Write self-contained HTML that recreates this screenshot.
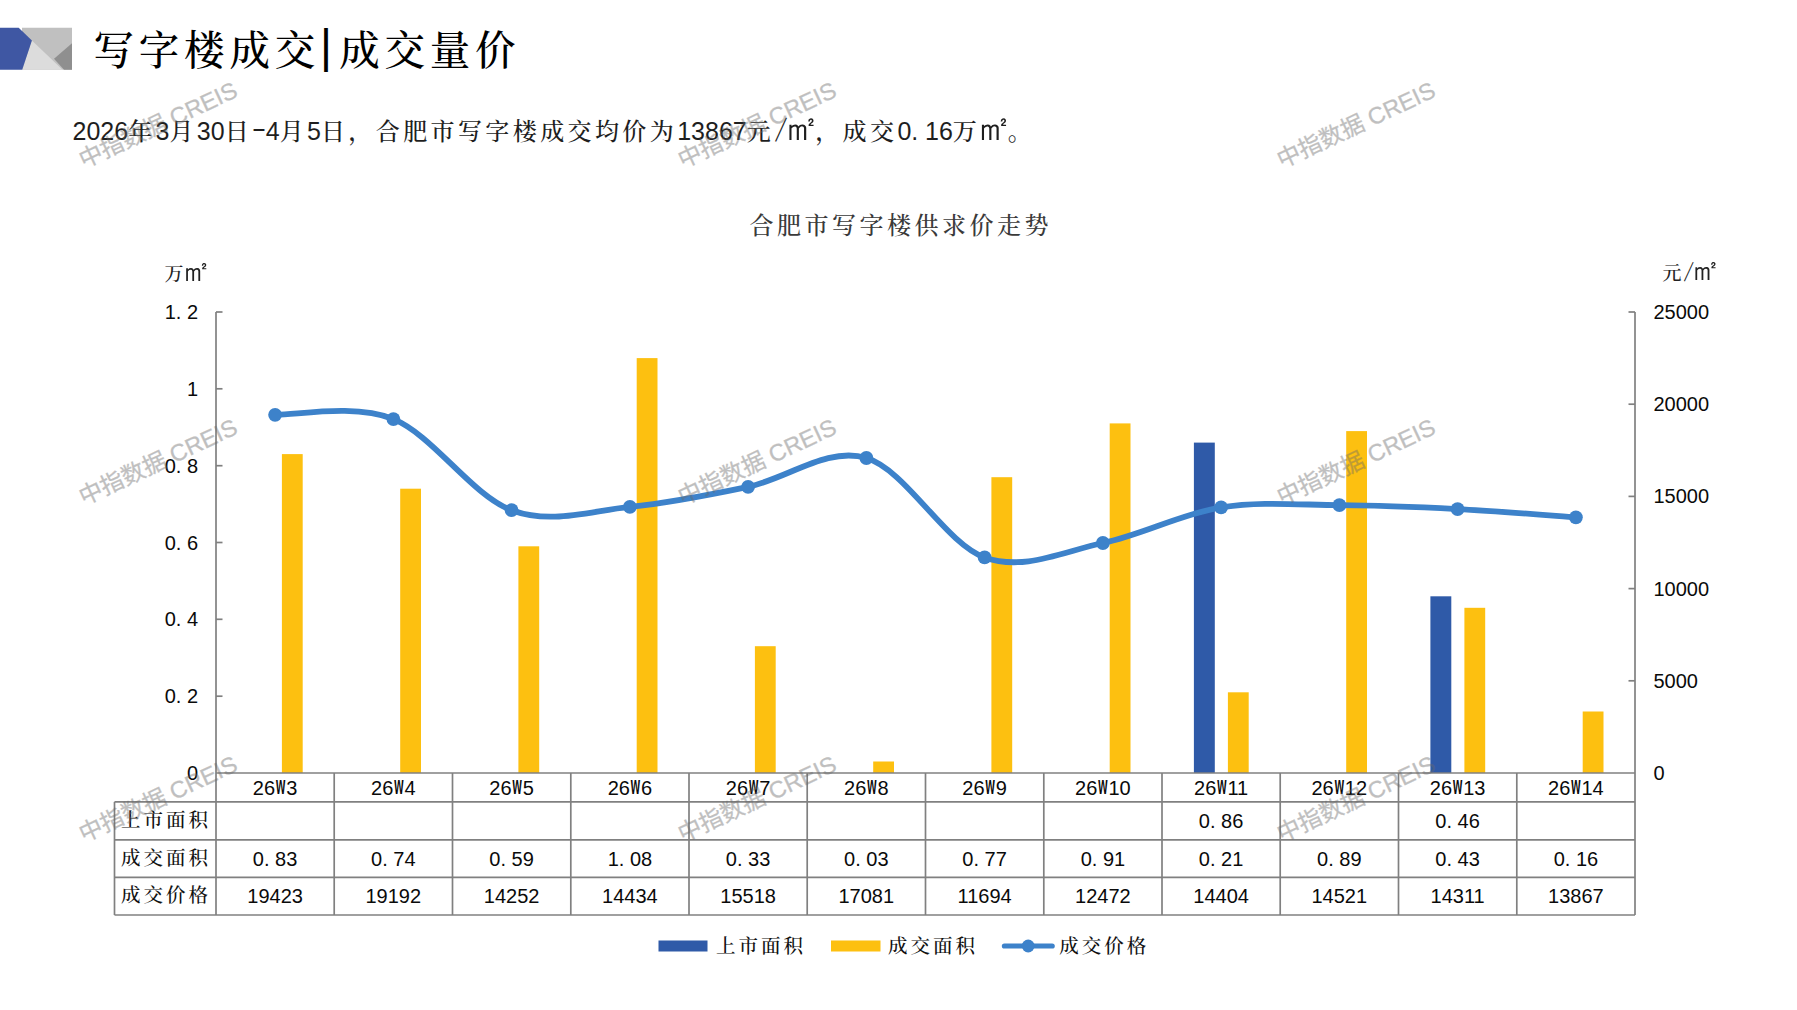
<!DOCTYPE html>
<html lang="zh-CN"><head><meta charset="utf-8"><title>写字楼成交|成交量价</title>
<style>
html,body{margin:0;padding:0;background:#fff}
body{width:1797px;height:1010px;position:relative;overflow:hidden;font-family:"Liberation Sans","Noto Serif CJK SC",serif}
svg{position:absolute;left:0;top:0}
.t{position:absolute;white-space:nowrap;color:#000;overflow:visible}
.t i{font-style:normal}
.r{text-align:right}.l{text-align:left}.c{text-align:center}
.n{font-family:"Liberation Sans",sans-serif;font-size:20px;color:#0a0a0a}
.n .p{display:inline-block;width:11.1px;text-align:left}
.n .w{font-family:"IPAGothic","Liberation Sans",sans-serif;font-size:20.5px;display:inline-block;width:11.1px;text-align:center}
.k{font-family:"Liberation Sans","Noto Serif CJK SC",serif;font-size:19.5px;letter-spacing:3px;color:#111;padding-left:1.5px;box-sizing:border-box;font-weight:500}
.u{font-family:"Liberation Sans","Noto Serif CJK SC",serif;font-size:19px;color:#222;font-weight:500}
.ct{font-family:"Liberation Sans","Noto Serif CJK SC",serif;font-size:24px;letter-spacing:3.5px;color:#3a3a3a;padding-left:3.5px;box-sizing:border-box;font-weight:500}
.h{font-family:"Liberation Sans","Noto Serif CJK SC",serif;font-size:40.5px;letter-spacing:4.8px;color:#000;font-weight:500}
.h .bar{display:inline-block;width:19.2px;letter-spacing:0;text-align:left;font-family:"Liberation Sans",sans-serif;font-size:46px;position:relative;top:-3px}
.b{font-family:"Liberation Sans","Noto Serif CJK SC",serif;font-size:24px;letter-spacing:3.4px;color:#1e1e1e;font-weight:500}
.b b{font-weight:normal;font-family:"Liberation Sans",sans-serif;font-size:25px;letter-spacing:0}
.b .p2{display:inline-block;width:13.7px;text-align:left}
.b .p3{display:inline-block;width:13.7px;text-align:center}
.sq{font-family:"WenQuanYi Zen Hei","Noto Sans CJK SC",sans-serif;letter-spacing:0;display:inline-block;text-align:center}
.b .sq{width:36px;font-size:36px;margin:0 -4.3px;line-height:20px}
.u .sq{width:30px;font-size:30px;margin:0 -3.9px;line-height:20px}
.u .cj{display:inline-block;width:22.2px;text-align:center}
.u .sl{display:inline-block;width:11.1px;text-align:center;font-family:"IPAGothic","Liberation Sans",sans-serif;font-size:22px}
.b .p3{font-family:"IPAGothic","Liberation Sans",sans-serif;font-size:27px}
.wm{position:absolute;width:200px;height:32px;line-height:32px;text-align:center;white-space:nowrap;font-family:"Liberation Sans","Noto Sans CJK SC",sans-serif;font-size:23.4px;color:#696969;opacity:.42;-webkit-text-stroke:.3px #696969;transform:rotate(-25deg);transform-origin:50% 50%}
</style></head>
<body>
<svg width="1797" height="1010" viewBox="0 0 1797 1010">
<rect x="281.9" y="454.1" width="20.8" height="318.9" fill="#fdc010"/>
<rect x="400.2" y="488.7" width="20.8" height="284.3" fill="#fdc010"/>
<rect x="518.4" y="546.3" width="20.8" height="226.7" fill="#fdc010"/>
<rect x="636.7" y="358.1" width="20.8" height="414.9" fill="#fdc010"/>
<rect x="754.9" y="646.2" width="20.8" height="126.8" fill="#fdc010"/>
<rect x="873.2" y="761.5" width="20.8" height="11.5" fill="#fdc010"/>
<rect x="991.4" y="477.2" width="20.8" height="295.8" fill="#fdc010"/>
<rect x="1109.7" y="423.4" width="20.8" height="349.6" fill="#fdc010"/>
<rect x="1193.9" y="442.6" width="20.9" height="330.4" fill="#2f5aa8"/>
<rect x="1227.9" y="692.3" width="20.8" height="80.7" fill="#fdc010"/>
<rect x="1346.2" y="431.1" width="20.8" height="341.9" fill="#fdc010"/>
<rect x="1430.4" y="596.3" width="20.9" height="176.7" fill="#2f5aa8"/>
<rect x="1464.4" y="607.8" width="20.8" height="165.2" fill="#fdc010"/>
<rect x="1582.7" y="711.5" width="20.8" height="61.5" fill="#fdc010"/>
<line x1="216.0" y1="312.0" x2="216.0" y2="915.0" stroke="#808080" stroke-width="1.7"/>
<line x1="1635.0" y1="312.0" x2="1635.0" y2="915.0" stroke="#808080" stroke-width="1.7"/>
<line x1="334.2" y1="773.0" x2="334.2" y2="915.0" stroke="#808080" stroke-width="1.7"/>
<line x1="452.5" y1="773.0" x2="452.5" y2="915.0" stroke="#808080" stroke-width="1.7"/>
<line x1="570.8" y1="773.0" x2="570.8" y2="915.0" stroke="#808080" stroke-width="1.7"/>
<line x1="689.0" y1="773.0" x2="689.0" y2="915.0" stroke="#808080" stroke-width="1.7"/>
<line x1="807.2" y1="773.0" x2="807.2" y2="915.0" stroke="#808080" stroke-width="1.7"/>
<line x1="925.5" y1="773.0" x2="925.5" y2="915.0" stroke="#808080" stroke-width="1.7"/>
<line x1="1043.8" y1="773.0" x2="1043.8" y2="915.0" stroke="#808080" stroke-width="1.7"/>
<line x1="1162.0" y1="773.0" x2="1162.0" y2="915.0" stroke="#808080" stroke-width="1.7"/>
<line x1="1280.2" y1="773.0" x2="1280.2" y2="915.0" stroke="#808080" stroke-width="1.7"/>
<line x1="1398.5" y1="773.0" x2="1398.5" y2="915.0" stroke="#808080" stroke-width="1.7"/>
<line x1="1516.8" y1="773.0" x2="1516.8" y2="915.0" stroke="#808080" stroke-width="1.7"/>
<line x1="114.5" y1="801.9" x2="114.5" y2="915.0" stroke="#808080" stroke-width="1.7"/>
<line x1="216.0" y1="773.0" x2="1635.0" y2="773.0" stroke="#808080" stroke-width="1.7"/>
<line x1="114.5" y1="801.9" x2="1635.0" y2="801.9" stroke="#808080" stroke-width="1.7"/>
<line x1="114.5" y1="839.8" x2="1635.0" y2="839.8" stroke="#808080" stroke-width="1.7"/>
<line x1="114.5" y1="877.3" x2="1635.0" y2="877.3" stroke="#808080" stroke-width="1.7"/>
<line x1="114.5" y1="915.0" x2="1635.0" y2="915.0" stroke="#808080" stroke-width="1.7"/>
<line x1="216.0" y1="696.2" x2="222.5" y2="696.2" stroke="#808080" stroke-width="1.7"/>
<line x1="216.0" y1="619.3" x2="222.5" y2="619.3" stroke="#808080" stroke-width="1.7"/>
<line x1="216.0" y1="542.5" x2="222.5" y2="542.5" stroke="#808080" stroke-width="1.7"/>
<line x1="216.0" y1="465.7" x2="222.5" y2="465.7" stroke="#808080" stroke-width="1.7"/>
<line x1="216.0" y1="388.8" x2="222.5" y2="388.8" stroke="#808080" stroke-width="1.7"/>
<line x1="216.0" y1="312.0" x2="222.5" y2="312.0" stroke="#808080" stroke-width="1.7"/>
<line x1="1628.5" y1="680.8" x2="1635.0" y2="680.8" stroke="#808080" stroke-width="1.7"/>
<line x1="1628.5" y1="588.6" x2="1635.0" y2="588.6" stroke="#808080" stroke-width="1.7"/>
<line x1="1628.5" y1="496.4" x2="1635.0" y2="496.4" stroke="#808080" stroke-width="1.7"/>
<line x1="1628.5" y1="404.2" x2="1635.0" y2="404.2" stroke="#808080" stroke-width="1.7"/>
<line x1="1628.5" y1="312.0" x2="1635.0" y2="312.0" stroke="#808080" stroke-width="1.7"/>
<path d="M275.1,414.8 C294.8,415.5 354.0,403.2 393.4,419.1 C432.8,435.0 472.2,495.6 511.6,510.2 C551.0,524.8 590.5,510.7 629.9,506.8 C669.3,502.9 708.7,495.0 748.1,486.8 C787.5,478.7 827.0,446.3 866.4,458.0 C905.8,469.8 945.2,543.2 984.6,557.4 C1024.0,571.5 1063.5,551.3 1102.9,543.0 C1142.3,534.7 1181.7,513.7 1221.1,507.4 C1260.5,501.1 1300.0,504.9 1339.4,505.2 C1378.8,505.5 1418.2,507.1 1457.6,509.1 C1497.0,511.1 1556.2,515.9 1575.9,517.3" fill="none" stroke="#3d82ca" stroke-width="5.8" stroke-linecap="round" stroke-linejoin="round"/>
<circle cx="275.1" cy="414.8" r="6.9" fill="#3d82ca"/>
<circle cx="393.4" cy="419.1" r="6.9" fill="#3d82ca"/>
<circle cx="511.6" cy="510.2" r="6.9" fill="#3d82ca"/>
<circle cx="629.9" cy="506.8" r="6.9" fill="#3d82ca"/>
<circle cx="748.1" cy="486.8" r="6.9" fill="#3d82ca"/>
<circle cx="866.4" cy="458.0" r="6.9" fill="#3d82ca"/>
<circle cx="984.6" cy="557.4" r="6.9" fill="#3d82ca"/>
<circle cx="1102.9" cy="543.0" r="6.9" fill="#3d82ca"/>
<circle cx="1221.1" cy="507.4" r="6.9" fill="#3d82ca"/>
<circle cx="1339.4" cy="505.2" r="6.9" fill="#3d82ca"/>
<circle cx="1457.6" cy="509.1" r="6.9" fill="#3d82ca"/>
<circle cx="1575.9" cy="517.3" r="6.9" fill="#3d82ca"/>
<rect x="658.5" y="940.5" width="49" height="11" fill="#2f5aa8"/>
<rect x="831" y="940.5" width="49.5" height="11" fill="#fdc010"/>
<line x1="1004.4" y1="946" x2="1052.2" y2="946" stroke="#3d82ca" stroke-width="5.2" stroke-linecap="round"/>
<circle cx="1028.2" cy="946" r="6.4" fill="#3d82ca"/>
<polygon points="22,27.7 72,27.7 72,69.8 22,69.8" fill="#c0c0c0"/>
<polygon points="22,69.8 31.9,40.6 62.6,69.8" fill="#dcdcdc"/>
<polygon points="72,43.2 54,58.7 64,69.8 72,69.8" fill="#8f8f8f"/>
<polygon points="0,27.7 18.7,27.7 31.9,40.6 22.2,69.8 0,69.8" fill="#3f57a3"/>
</svg>
<div class="t n r" style="left:100.0px;top:759.0px;width:98.0px;height:28.0px;line-height:28.0px;">0</div>
<div class="t n r" style="left:100.0px;top:682.2px;width:98.0px;height:28.0px;line-height:28.0px;">0<i class="p">.</i>2</div>
<div class="t n r" style="left:100.0px;top:605.3px;width:98.0px;height:28.0px;line-height:28.0px;">0<i class="p">.</i>4</div>
<div class="t n r" style="left:100.0px;top:528.5px;width:98.0px;height:28.0px;line-height:28.0px;">0<i class="p">.</i>6</div>
<div class="t n r" style="left:100.0px;top:451.7px;width:98.0px;height:28.0px;line-height:28.0px;">0<i class="p">.</i>8</div>
<div class="t n r" style="left:100.0px;top:374.8px;width:98.0px;height:28.0px;line-height:28.0px;">1</div>
<div class="t n r" style="left:100.0px;top:298.0px;width:98.0px;height:28.0px;line-height:28.0px;">1<i class="p">.</i>2</div>
<div class="t n l" style="left:1653.5px;top:759.0px;width:100.0px;height:28.0px;line-height:28.0px;">0</div>
<div class="t n l" style="left:1653.5px;top:666.8px;width:100.0px;height:28.0px;line-height:28.0px;">5000</div>
<div class="t n l" style="left:1653.5px;top:574.6px;width:100.0px;height:28.0px;line-height:28.0px;">10000</div>
<div class="t n l" style="left:1653.5px;top:482.4px;width:100.0px;height:28.0px;line-height:28.0px;">15000</div>
<div class="t n l" style="left:1653.5px;top:390.2px;width:100.0px;height:28.0px;line-height:28.0px;">20000</div>
<div class="t n l" style="left:1653.5px;top:298.0px;width:100.0px;height:28.0px;line-height:28.0px;">25000</div>
<div class="t n c" style="left:216.0px;top:772.2px;width:118.2px;height:30.4px;line-height:30.4px;">26<i class="w">W</i>3</div>
<div class="t n c" style="left:216.0px;top:839.8px;width:118.2px;height:38.5px;line-height:38.5px;">0<i class="p">.</i>83</div>
<div class="t n c" style="left:216.0px;top:877.3px;width:118.2px;height:38.7px;line-height:38.7px;">19423</div>
<div class="t n c" style="left:334.2px;top:772.2px;width:118.2px;height:30.4px;line-height:30.4px;">26<i class="w">W</i>4</div>
<div class="t n c" style="left:334.2px;top:839.8px;width:118.2px;height:38.5px;line-height:38.5px;">0<i class="p">.</i>74</div>
<div class="t n c" style="left:334.2px;top:877.3px;width:118.2px;height:38.7px;line-height:38.7px;">19192</div>
<div class="t n c" style="left:452.5px;top:772.2px;width:118.2px;height:30.4px;line-height:30.4px;">26<i class="w">W</i>5</div>
<div class="t n c" style="left:452.5px;top:839.8px;width:118.2px;height:38.5px;line-height:38.5px;">0<i class="p">.</i>59</div>
<div class="t n c" style="left:452.5px;top:877.3px;width:118.2px;height:38.7px;line-height:38.7px;">14252</div>
<div class="t n c" style="left:570.8px;top:772.2px;width:118.2px;height:30.4px;line-height:30.4px;">26<i class="w">W</i>6</div>
<div class="t n c" style="left:570.8px;top:839.8px;width:118.2px;height:38.5px;line-height:38.5px;">1<i class="p">.</i>08</div>
<div class="t n c" style="left:570.8px;top:877.3px;width:118.2px;height:38.7px;line-height:38.7px;">14434</div>
<div class="t n c" style="left:689.0px;top:772.2px;width:118.2px;height:30.4px;line-height:30.4px;">26<i class="w">W</i>7</div>
<div class="t n c" style="left:689.0px;top:839.8px;width:118.2px;height:38.5px;line-height:38.5px;">0<i class="p">.</i>33</div>
<div class="t n c" style="left:689.0px;top:877.3px;width:118.2px;height:38.7px;line-height:38.7px;">15518</div>
<div class="t n c" style="left:807.2px;top:772.2px;width:118.2px;height:30.4px;line-height:30.4px;">26<i class="w">W</i>8</div>
<div class="t n c" style="left:807.2px;top:839.8px;width:118.2px;height:38.5px;line-height:38.5px;">0<i class="p">.</i>03</div>
<div class="t n c" style="left:807.2px;top:877.3px;width:118.2px;height:38.7px;line-height:38.7px;">17081</div>
<div class="t n c" style="left:925.5px;top:772.2px;width:118.2px;height:30.4px;line-height:30.4px;">26<i class="w">W</i>9</div>
<div class="t n c" style="left:925.5px;top:839.8px;width:118.2px;height:38.5px;line-height:38.5px;">0<i class="p">.</i>77</div>
<div class="t n c" style="left:925.5px;top:877.3px;width:118.2px;height:38.7px;line-height:38.7px;">11694</div>
<div class="t n c" style="left:1043.8px;top:772.2px;width:118.2px;height:30.4px;line-height:30.4px;">26<i class="w">W</i>10</div>
<div class="t n c" style="left:1043.8px;top:839.8px;width:118.2px;height:38.5px;line-height:38.5px;">0<i class="p">.</i>91</div>
<div class="t n c" style="left:1043.8px;top:877.3px;width:118.2px;height:38.7px;line-height:38.7px;">12472</div>
<div class="t n c" style="left:1162.0px;top:772.2px;width:118.2px;height:30.4px;line-height:30.4px;">26<i class="w">W</i>11</div>
<div class="t n c" style="left:1162.0px;top:801.9px;width:118.2px;height:38.9px;line-height:38.9px;">0<i class="p">.</i>86</div>
<div class="t n c" style="left:1162.0px;top:839.8px;width:118.2px;height:38.5px;line-height:38.5px;">0<i class="p">.</i>21</div>
<div class="t n c" style="left:1162.0px;top:877.3px;width:118.2px;height:38.7px;line-height:38.7px;">14404</div>
<div class="t n c" style="left:1280.2px;top:772.2px;width:118.2px;height:30.4px;line-height:30.4px;">26<i class="w">W</i>12</div>
<div class="t n c" style="left:1280.2px;top:839.8px;width:118.2px;height:38.5px;line-height:38.5px;">0<i class="p">.</i>89</div>
<div class="t n c" style="left:1280.2px;top:877.3px;width:118.2px;height:38.7px;line-height:38.7px;">14521</div>
<div class="t n c" style="left:1398.5px;top:772.2px;width:118.2px;height:30.4px;line-height:30.4px;">26<i class="w">W</i>13</div>
<div class="t n c" style="left:1398.5px;top:801.9px;width:118.2px;height:38.9px;line-height:38.9px;">0<i class="p">.</i>46</div>
<div class="t n c" style="left:1398.5px;top:839.8px;width:118.2px;height:38.5px;line-height:38.5px;">0<i class="p">.</i>43</div>
<div class="t n c" style="left:1398.5px;top:877.3px;width:118.2px;height:38.7px;line-height:38.7px;">14311</div>
<div class="t n c" style="left:1516.8px;top:772.2px;width:118.2px;height:30.4px;line-height:30.4px;">26<i class="w">W</i>14</div>
<div class="t n c" style="left:1516.8px;top:839.8px;width:118.2px;height:38.5px;line-height:38.5px;">0<i class="p">.</i>16</div>
<div class="t n c" style="left:1516.8px;top:877.3px;width:118.2px;height:38.7px;line-height:38.7px;">13867</div>
<div class="t k c" style="left:114.5px;top:801.9px;width:101.5px;height:37.9px;line-height:37.9px;">上市面积</div>
<div class="t k c" style="left:114.5px;top:839.8px;width:101.5px;height:37.5px;line-height:37.5px;">成交面积</div>
<div class="t k c" style="left:114.5px;top:877.3px;width:101.5px;height:37.7px;line-height:37.7px;">成交价格</div>
<div class="t k l" style="left:714.5px;top:932.0px;width:100.0px;height:28.0px;line-height:28.0px;">上市面积</div>
<div class="t k l" style="left:886.5px;top:932.0px;width:100.0px;height:28.0px;line-height:28.0px;">成交面积</div>
<div class="t k l" style="left:1057.8px;top:932.0px;width:100.0px;height:28.0px;line-height:28.0px;">成交价格</div>
<div class="t u l" style="left:163.0px;top:260.5px;width:80.0px;height:28.0px;line-height:28.0px;"><i class="cj">万</i><i class="sq">㎡</i></div>
<div class="t u l" style="left:1661.0px;top:258.3px;width:80.0px;height:28.0px;line-height:28.0px;"><i class="cj">元</i><i class="sl">/</i><i class="sq">㎡</i></div>
<div class="t ct c" style="left:599.0px;top:211.0px;width:600.0px;height:30.0px;line-height:30.0px;">合肥市写字楼供求价走势</div>
<div class="t h l" style="left:93.5px;top:23.0px;width:500.0px;height:52.0px;line-height:52.0px;">写字楼成交<i class="bar">|</i>成交量价</div>
<div class="t b l" style="left:72.5px;top:112.0px;width:1200.0px;height:36.0px;line-height:36.0px;"><b>2026</b>年<b>3</b>月<b>30</b>日<b><i class="p3">-</i>4</b>月<b>5</b>日，合肥市写字楼成交均价为<b>13867</b>元<b><i class="p3">/</i></b><i class="sq">㎡</i>，成交<b>0<i class="p2">.</i>16</b>万<i class="sq">㎡</i>。</div>
<div class="wm" style="left:58.0px;top:109.0px">中指数据 CREIS</div>
<div class="wm" style="left:656.9px;top:109.0px">中指数据 CREIS</div>
<div class="wm" style="left:1255.7px;top:109.0px">中指数据 CREIS</div>
<div class="wm" style="left:58.0px;top:445.8px">中指数据 CREIS</div>
<div class="wm" style="left:656.9px;top:445.8px">中指数据 CREIS</div>
<div class="wm" style="left:1255.7px;top:445.8px">中指数据 CREIS</div>
<div class="wm" style="left:58.0px;top:782.6px">中指数据 CREIS</div>
<div class="wm" style="left:656.9px;top:782.6px">中指数据 CREIS</div>
<div class="wm" style="left:1255.7px;top:782.6px">中指数据 CREIS</div>
</body></html>
